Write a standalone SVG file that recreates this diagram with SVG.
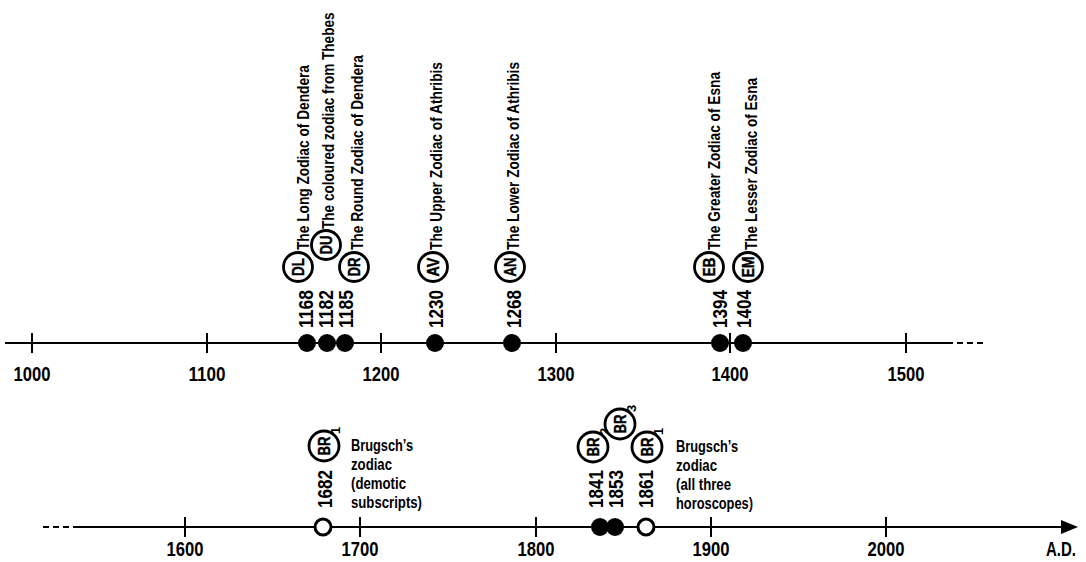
<svg xmlns="http://www.w3.org/2000/svg" width="1086" height="562" viewBox="0 0 1086 562">
<style>
text{font-family:"Liberation Sans",Arial,sans-serif;font-weight:bold;fill:#000}
.ax{stroke:#000;stroke-width:2;fill:none}
.dash{stroke:#000;stroke-width:2;stroke-dasharray:6 4;fill:none}
.tk{stroke:#000;stroke-width:2}
.yr{font-size:21px}
.lb{font-size:16px}
.ci{fill:#fff;stroke:#000;stroke-width:2.8}
.ct{font-size:16px;text-anchor:middle;stroke:#000;stroke-width:0.4}
.sub{font-size:13px}
.dot{fill:#000}
.odot{fill:#fff;stroke:#000;stroke-width:3}
.hl{font-size:16px}
.tl{font-size:21px;text-anchor:middle}
</style>
<rect width="1086" height="562" fill="#fff"/>
<g id="connectors">
<line class="ax" x1="5" y1="343" x2="953" y2="343"/>
<line class="dash" x1="957" y1="343" x2="985" y2="343"/>
<line class="dash" x1="43" y1="527" x2="71" y2="527"/>
<line class="ax" x1="73" y1="527" x2="1064" y2="527"/>
<polygon points="1078,527 1061,520 1061,534" fill="#000"/>
</g>
<g id="top-axis-ticks">
<line class="tk" x1="32" y1="333" x2="32" y2="353"/>
<line class="tk" x1="207" y1="333" x2="207" y2="353"/>
<line class="tk" x1="381" y1="333" x2="381" y2="353"/>
<line class="tk" x1="556" y1="333" x2="556" y2="353"/>
<line class="tk" x1="730" y1="333" x2="730" y2="353"/>
<line class="tk" x1="906" y1="333" x2="906" y2="353"/>
<text class="tl" x="32" y="381" textLength="37" lengthAdjust="spacingAndGlyphs">1000</text>
<text class="tl" x="207" y="381" textLength="37" lengthAdjust="spacingAndGlyphs">1100</text>
<text class="tl" x="381" y="381" textLength="37" lengthAdjust="spacingAndGlyphs">1200</text>
<text class="tl" x="556" y="381" textLength="37" lengthAdjust="spacingAndGlyphs">1300</text>
<text class="tl" x="730" y="381" textLength="37" lengthAdjust="spacingAndGlyphs">1400</text>
<text class="tl" x="906" y="381" textLength="37" lengthAdjust="spacingAndGlyphs">1500</text>
</g>
<g id="bottom-axis-ticks">
<line class="tk" x1="185" y1="517" x2="185" y2="537"/>
<line class="tk" x1="360" y1="517" x2="360" y2="537"/>
<line class="tk" x1="536" y1="517" x2="536" y2="537"/>
<line class="tk" x1="711" y1="517" x2="711" y2="537"/>
<line class="tk" x1="886" y1="517" x2="886" y2="537"/>
<text class="tl" x="185" y="556" textLength="37" lengthAdjust="spacingAndGlyphs">1600</text>
<text class="tl" x="360" y="556" textLength="37" lengthAdjust="spacingAndGlyphs">1700</text>
<text class="tl" x="536" y="556" textLength="37" lengthAdjust="spacingAndGlyphs">1800</text>
<text class="tl" x="711" y="556" textLength="37" lengthAdjust="spacingAndGlyphs">1900</text>
<text class="tl" x="886" y="556" textLength="37" lengthAdjust="spacingAndGlyphs">2000</text>
<text x="1046" y="556" font-size="20" textLength="30" lengthAdjust="spacingAndGlyphs">A.D.</text>
</g>
<g id="node-DL">
<circle class="dot" cx="307" cy="343" r="9"/>
<text class="yr" transform="translate(313,328) rotate(-90)" textLength="38" lengthAdjust="spacingAndGlyphs">1168</text>
<circle class="ci" cx="298" cy="267" r="14.5"/>
<text class="ct" transform="translate(298,267) rotate(-90)" y="5.7" textLength="18" lengthAdjust="spacingAndGlyphs">DL</text>
<text class="lb" transform="translate(309,250) rotate(-90)" textLength="185" lengthAdjust="spacingAndGlyphs">The Long Zodiac of Dendera</text>
</g>
<g id="node-DU">
<circle class="dot" cx="327" cy="343" r="9"/>
<text class="yr" transform="translate(333,328) rotate(-90)" textLength="38" lengthAdjust="spacingAndGlyphs">1182</text>
<circle class="ci" cx="326" cy="245" r="14.5"/>
<text class="ct" transform="translate(326,245) rotate(-90)" y="5.7" textLength="19" lengthAdjust="spacingAndGlyphs">DU</text>
<text class="lb" transform="translate(334,229) rotate(-90) scale(0.85,1)">The coloured zodiac from Thebes</text>
</g>
<g id="node-DR">
<circle class="dot" cx="345" cy="343" r="9"/>
<text class="yr" transform="translate(353,328) rotate(-90)" textLength="38" lengthAdjust="spacingAndGlyphs">1185</text>
<circle class="ci" cx="354" cy="267" r="14.5"/>
<text class="ct" transform="translate(354,267) rotate(-90)" y="5.7" textLength="19" lengthAdjust="spacingAndGlyphs">DR</text>
<text class="lb" transform="translate(363,250) rotate(-90)" textLength="195" lengthAdjust="spacingAndGlyphs">The Round Zodiac of Dendera</text>
</g>
<g id="node-AV">
<circle class="dot" cx="435" cy="343" r="9"/>
<text class="yr" transform="translate(443,328) rotate(-90)" textLength="38" lengthAdjust="spacingAndGlyphs">1230</text>
<circle class="ci" cx="433" cy="267" r="14.5"/>
<text class="ct" transform="translate(433,267) rotate(-90)" y="5.7" textLength="19" lengthAdjust="spacingAndGlyphs">AV</text>
<text class="lb" transform="translate(442,250) rotate(-90)" textLength="188" lengthAdjust="spacingAndGlyphs">The Upper Zodiac of Athribis</text>
</g>
<g id="node-AN">
<circle class="dot" cx="512" cy="343" r="9"/>
<text class="yr" transform="translate(521,328) rotate(-90)" textLength="38" lengthAdjust="spacingAndGlyphs">1268</text>
<circle class="ci" cx="510" cy="267" r="14.5"/>
<text class="ct" transform="translate(510,267) rotate(-90)" y="5.7" textLength="19" lengthAdjust="spacingAndGlyphs">AN</text>
<text class="lb" transform="translate(519,250) rotate(-90)" textLength="188" lengthAdjust="spacingAndGlyphs">The Lower Zodiac of Athribis</text>
</g>
<g id="node-EB">
<circle class="dot" cx="720" cy="343" r="9"/>
<text class="yr" transform="translate(727,328) rotate(-90)" textLength="38" lengthAdjust="spacingAndGlyphs">1394</text>
<circle class="ci" cx="709" cy="267" r="14.5"/>
<text class="ct" transform="translate(709,267) rotate(-90)" y="5.7" textLength="19" lengthAdjust="spacingAndGlyphs">EB</text>
<text class="lb" transform="translate(720,250) rotate(-90)" textLength="178" lengthAdjust="spacingAndGlyphs">The Greater Zodiac of Esna</text>
</g>
<g id="node-EM">
<circle class="dot" cx="743" cy="343" r="9"/>
<text class="yr" transform="translate(751,328) rotate(-90)" textLength="38" lengthAdjust="spacingAndGlyphs">1404</text>
<circle class="ci" cx="748" cy="267" r="14.5"/>
<text class="ct" transform="translate(748,267) rotate(-90)" y="5.7" textLength="21" lengthAdjust="spacingAndGlyphs">EM</text>
<text class="lb" transform="translate(757,250) rotate(-90)" textLength="172" lengthAdjust="spacingAndGlyphs">The Lesser Zodiac of Esna</text>
</g>
<g id="node-BR1-1682">
<circle class="odot" cx="323" cy="527" r="8"/>
<text class="yr" transform="translate(332,508) rotate(-90)" textLength="38" lengthAdjust="spacingAndGlyphs">1682</text>
<circle class="ci" cx="324" cy="446" r="15"/>
<text class="ct" transform="translate(324,446) rotate(-90)" y="5.7" textLength="19" lengthAdjust="spacingAndGlyphs">BR</text>
<text class="sub" transform="translate(324,446) rotate(-90)" x="12" y="16">1</text>
<text class="hl" x="351" y="451" textLength="62" lengthAdjust="spacingAndGlyphs">Brugsch’s</text>
<text class="hl" x="351" y="470" textLength="41" lengthAdjust="spacingAndGlyphs">zodiac</text>
<text class="hl" x="351" y="489" textLength="55" lengthAdjust="spacingAndGlyphs">(demotic</text>
<text class="hl" x="351" y="508" textLength="71" lengthAdjust="spacingAndGlyphs">subscripts)</text>
</g>
<g id="node-BR2">
<circle class="dot" cx="600" cy="527" r="9"/>
<text class="yr" transform="translate(603,508) rotate(-90)" textLength="38" lengthAdjust="spacingAndGlyphs">1841</text>
<circle class="ci" cx="593" cy="447" r="15"/>
<text class="ct" transform="translate(593,447) rotate(-90)" y="5.7" textLength="19" lengthAdjust="spacingAndGlyphs">BR</text>
<text class="sub" transform="translate(593,447) rotate(-90)" x="12" y="16">2</text>
</g>
<g id="node-BR3">
<circle class="dot" cx="615" cy="527" r="9"/>
<text class="yr" transform="translate(623,508) rotate(-90)" textLength="38" lengthAdjust="spacingAndGlyphs">1853</text>
<circle class="ci" cx="620" cy="424" r="15"/>
<text class="ct" transform="translate(620,424) rotate(-90)" y="5.7" textLength="19" lengthAdjust="spacingAndGlyphs">BR</text>
<text class="sub" transform="translate(620,424) rotate(-90)" x="12" y="16">3</text>
</g>
<g id="node-BR1-1861">
<circle class="odot" cx="646" cy="527" r="8"/>
<text class="yr" transform="translate(653,508) rotate(-90)" textLength="38" lengthAdjust="spacingAndGlyphs">1861</text>
<circle class="ci" cx="647" cy="447" r="15"/>
<text class="ct" transform="translate(647,447) rotate(-90)" y="5.7" textLength="19" lengthAdjust="spacingAndGlyphs">BR</text>
<text class="sub" transform="translate(647,447) rotate(-90)" x="12" y="16">1</text>
<text class="hl" x="676" y="452" textLength="62" lengthAdjust="spacingAndGlyphs">Brugsch’s</text>
<text class="hl" x="676" y="471" textLength="41" lengthAdjust="spacingAndGlyphs">zodiac</text>
<text class="hl" x="676" y="490" textLength="55" lengthAdjust="spacingAndGlyphs">(all three</text>
<text class="hl" x="676" y="509" textLength="77" lengthAdjust="spacingAndGlyphs">horoscopes)</text>
</g>
</svg>
